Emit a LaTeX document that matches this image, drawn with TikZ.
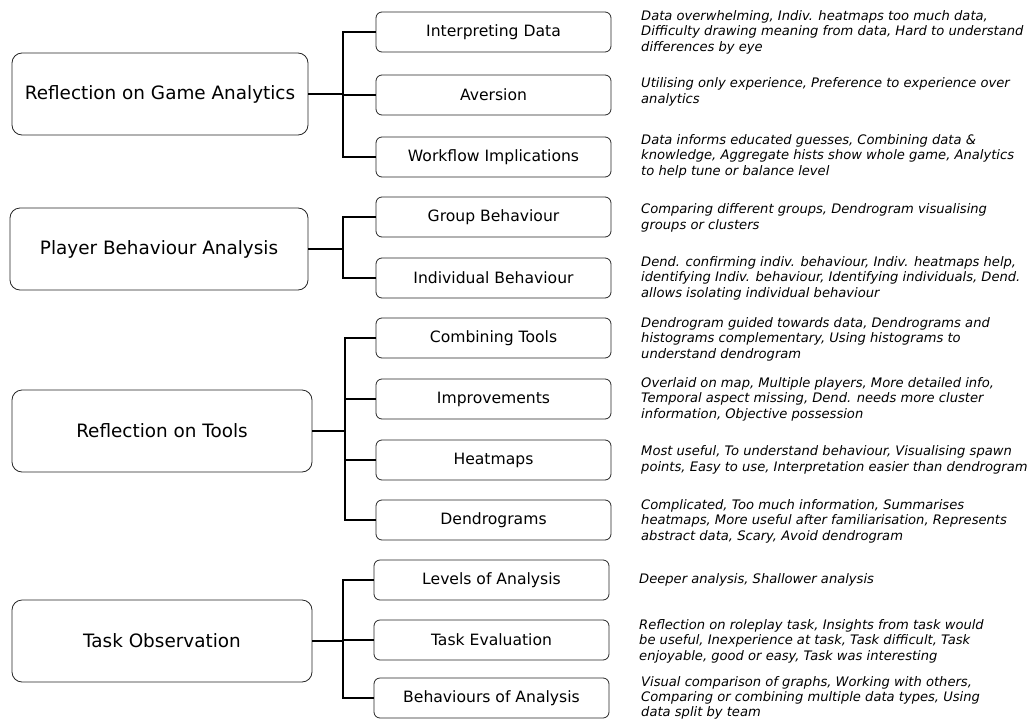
\documentclass[tikz,border=0pt]{standalone}
\usepackage{fontspec}
\setmainfont{DejaVu Sans}
\begin{document}
\begin{tikzpicture}[x=1pt,y=-1pt,
  mainbox/.style={draw=black!85,line width=0.8pt,rounded corners=10pt,inner sep=0pt,
    minimum height=82pt,font=\fontsize{18.4}{22}\selectfont},
  subbox/.style={draw=black!85,line width=0.8pt,rounded corners=6pt,inner sep=0pt,
    minimum width=235pt,minimum height=40pt,font=\fontsize{15.6}{18}\selectfont},
  desc/.style={anchor=west,align=left,inner sep=0pt,font=\fontsize{13.1}{15.5}\selectfont\itshape},
  conn/.style={line width=1.6pt,black}]
\useasboundingbox (0,0) rectangle (1031,720);
% main boxes
\node[mainbox,minimum width=296pt] (m1) at (160,94) {Reflection on Game Analytics};
\node[mainbox,minimum width=298pt] (m2) at (159,249) {Player Behaviour Analysis};
\node[mainbox,minimum width=300pt] (m3) at (162,431) {Reflection on Tools};
\node[mainbox,minimum width=300pt] (m4) at (162,641) {Task Observation};
% sub boxes
\node[subbox] (s1) at (493.5,32) {Interpreting Data};
\node[subbox] (s2) at (493.5,95) {Aversion};
\node[subbox] (s3) at (493.5,157) {Workflow Implications};
\node[subbox] (s4) at (493.5,217) {Group Behaviour};
\node[subbox] (s5) at (493.5,278) {Individual Behaviour};
\node[subbox] (s6) at (493.5,338) {Combining Tools};
\node[subbox] (s7) at (493.5,399) {Improvements};
\node[subbox] (s8) at (493.5,460) {Heatmaps};
\node[subbox] (s9) at (493.5,520) {Dendrograms};
\node[subbox] (s10) at (491.5,580) {Levels of Analysis};
\node[subbox] (s11) at (491.5,640) {Task Evaluation};
\node[subbox] (s12) at (491.5,698) {Behaviours of Analysis};
% descriptions
\node[desc] (d1) at (641,32) {Data overwhelming, Indiv. heatmaps too much data,\\Difficulty drawing meaning from data, Hard to understand\\differences by eye};
\node[desc] (d2) at (641,92) {Utilising only experience, Preference to experience over\\analytics};
\node[desc] (d3) at (641,156) {Data informs educated guesses, Combining data \&\\knowledge, Aggregate hists show whole game, Analytics\\to help tune or balance level};
\node[desc] (d4) at (641,218) {Comparing different groups, Dendrogram visualising\\groups or clusters};
\node[desc] (d5) at (641,278) {Dend. confirming indiv. behaviour, Indiv. heatmaps help,\\identifying Indiv. behaviour, Identifying individuals, Dend.\\allows isolating individual behaviour};
\node[desc] (d6) at (641,339) {Dendrogram guided towards data, Dendrograms and\\histograms complementary, Using histograms to\\understand dendrogram};
\node[desc] (d7) at (641,399) {Overlaid on map, Multiple players, More detailed info,\\Temporal aspect missing, Dend. needs more cluster\\information, Objective possession};
\node[desc] (d8) at (641,460) {Most useful, To understand behaviour, Visualising spawn\\points, Easy to use, Interpretation easier than dendrogram};
\node[desc] (d9) at (641,521) {Complicated, Too much information, Summarises\\heatmaps, More useful after familiarisation, Represents\\abstract data, Scary, Avoid dendrogram};
\node[desc] (d10) at (639,580) {Deeper analysis, Shallower analysis};
\node[desc] (d11) at (639,641) {Reflection on roleplay task, Insights from task would\\be useful, Inexperience at task, Task difficult, Task\\enjoyable, good or easy, Task was interesting};
\node[desc,font=\fontsize{13.1}{15}\selectfont\itshape] (d12) at (641,698) {Visual comparison of graphs, Working with others,\\Comparing or combining multiple data types, Using\\data split by team};
% spines
\coordinate (j1) at (343,94);
\coordinate (j2) at (343,249);
\coordinate (j3) at (345,431);
\coordinate (j4) at (343,641);
% connectors
\draw[conn] (m1.east) -- (j1);
\draw[conn] (s1.west) -- (s1.west -| j1) -- (s3.west -| j1) -- (s3.west);
\draw[conn] (s2.west) -- (s2.west -| j1);
\draw[conn] (m2.east) -- (j2);
\draw[conn] (s4.west) -- (s4.west -| j2) -- (s5.west -| j2) -- (s5.west);
\draw[conn] (m3.east) -- (j3);
\draw[conn] (s6.west) -- (s6.west -| j3) -- (s9.west -| j3) -- (s9.west);
\draw[conn] (s7.west) -- (s7.west -| j3);
\draw[conn] (s8.west) -- (s8.west -| j3);
\draw[conn] (m4.east) -- (j4);
\draw[conn] (s10.west) -- (s10.west -| j4) -- (s12.west -| j4) -- (s12.west);
\draw[conn] (s11.west) -- (s11.west -| j4);
\end{tikzpicture}
\end{document}
